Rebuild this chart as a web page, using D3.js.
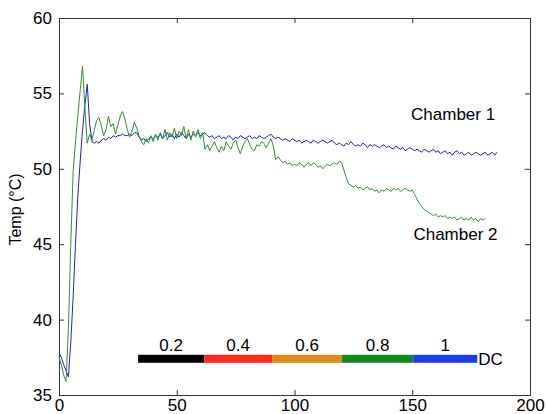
<!DOCTYPE html>
<html>
<head>
<meta charset="utf-8">
<script src="https://cdn.jsdelivr.net/npm/d3@7"></script>
<style type="text/css">
	body {
		margin: 0;
		background-color: white;
	}
	svg text {
		font-family: "Liberation Sans", Arial, sans-serif;
		fill: #000;
	}
	.axis path, .axis line {
		stroke: #333;
	}
</style>
</head>
<body>
<div id="chart"></div>
<script type="text/javascript">

	// chamber 1 (blue), one sample per second, t = 0 .. 186
	var chamber1 = [
		37.8,37.5,37.0,36.6,36.2,38.5,41.5,45.0,48.2,50.5,
		52.6,54.2,55.6,53.0,51.8,51.7,51.8,51.7,51.9,52.0,
		51.9,52.1,52.0,52.2,52.1,52.2,52.2,52.3,52.2,52.2,
		52.3,52.2,52.4,52.4,52.1,51.9,52.0,51.8,52.0,52.1,
		52.0,52.2,52.1,52.3,52.0,52.2,52.4,52.1,52.3,52.0,
		52.3,52.1,52.4,52.2,52.0,52.3,52.1,52.3,52.2,52.4,
		52.2,52.3,52.4,52.2,52.1,52.2,52.0,52.1,52.2,52.0,
		52.1,52.0,52.2,52.1,51.9,52.1,52.0,52.2,52.1,52.0,
		52.1,52.2,52.0,52.1,52.0,52.2,52.1,52.0,52.1,52.2,
		52.3,52.1,52.0,52.1,52.0,51.9,52.0,51.9,51.8,52.0,
		51.9,51.8,51.9,51.7,51.8,51.9,51.8,51.7,51.9,51.8,
		51.7,51.8,51.9,51.8,51.7,51.8,51.9,51.7,51.6,51.7,
		51.6,51.5,51.7,51.6,51.8,51.6,51.5,51.6,51.5,51.7,
		51.6,51.4,51.6,51.5,51.6,51.5,51.4,51.5,51.6,51.4,
		51.5,51.4,51.3,51.5,51.4,51.3,51.4,51.2,51.3,51.4,
		51.3,51.2,51.3,51.2,51.1,51.3,51.2,51.1,51.2,51.3,
		51.1,51.2,51.0,51.1,51.2,51.0,51.1,50.9,51.1,51.2,
		51.0,51.1,50.9,51.0,51.1,50.9,51.0,51.1,51.0,50.9,
		51.0,51.1,50.9,51.0,51.1,50.9,51.1
	];

	// chamber 2 (green), t = 0 .. 181
	var chamber2 = [
		37.5,37.0,36.3,35.9,39.5,45.0,49.8,51.8,53.5,55.2,
		56.8,54.0,51.7,52.3,51.9,52.6,53.2,53.4,52.8,52.2,
		52.6,53.5,52.8,53.0,52.3,52.9,53.5,53.8,53.3,52.6,
		52.1,52.5,53.1,52.7,52.2,51.8,51.6,52.0,51.7,52.2,
		51.8,52.3,51.9,52.4,52.0,52.6,51.9,52.4,52.1,52.7,
		52.0,52.5,52.2,52.8,52.0,52.6,51.9,52.5,52.1,52.6,
		52.0,52.4,51.3,51.6,51.2,51.5,51.8,51.4,51.1,51.5,
		51.2,51.8,51.5,51.3,51.7,51.9,51.4,51.0,51.5,51.8,
		52.0,51.6,51.3,51.2,51.6,51.5,51.8,51.7,51.4,51.7,
		52.0,51.5,50.6,50.8,50.6,50.4,50.5,50.3,50.4,50.2,
		50.3,50.2,50.4,50.3,50.1,50.3,50.4,50.2,50.4,50.3,
		50.1,50.2,50.0,50.2,50.3,50.2,50.3,50.4,50.3,50.5,
		50.4,49.9,49.4,49.0,48.9,48.8,48.9,48.7,48.8,48.6,
		48.7,48.8,48.6,48.7,48.5,48.6,48.4,48.6,48.5,48.7,
		48.6,48.5,48.7,48.6,48.7,48.5,48.6,48.7,48.6,48.5,
		48.6,48.3,48.0,47.7,47.5,47.3,47.2,47.1,47.0,46.9,
		47.0,46.8,46.9,46.8,46.9,46.7,46.8,46.7,46.8,46.6,
		46.7,46.8,46.6,46.7,46.6,46.8,46.6,46.7,46.5,46.7,
		46.6,46.7
	];

	var xTicks = [0, 50, 100, 150, 200];
	var yTicks = [35, 40, 45, 50, 55, 60];

	// duty cycle bar: segment edges (time) and labels
	var dcEdges = [33.6, 61.6, 90.5, 120.2, 150.4, 177.6];
	var dcLabels = ["0.2", "0.4", "0.6", "0.8", "1"];
	var dcColors = ["#000000", "#ff2a1a", "#e08c14", "#118a1e", "#1a3cf0"];
	var dcLevel = 37.4;

	var width = 547, height = 414;
	var margin = {top: 18, right: 17, bottom: 19, left: 59};

	var svg = d3.select("#chart").append("svg")
		.attr("width", width)
		.attr("height", height);

	var x = d3.scaleLinear().domain([0, 200]).range([margin.left, width - margin.right]);
	var y = d3.scaleLinear().domain([35, 60]).range([height - margin.bottom, margin.top]);

	// box + inward ticks, matlab style
	var g = svg.append("g").attr("class", "axis");

	g.append("g")
		.attr("transform", `translate(0,${y(35)})`)
		.call(d3.axisBottom(x).tickValues(xTicks).tickSize(-5).tickPadding(4).tickSizeOuter(0))
		.selectAll("text").style("font-size", "17px");

	g.append("g")
		.attr("transform", `translate(0,${y(60)})`)
		.call(d3.axisTop(x).tickValues(xTicks).tickSize(-5).tickSizeOuter(0).tickFormat(""));

	g.append("g")
		.attr("transform", `translate(${x(0)},0)`)
		.call(d3.axisLeft(y).tickValues(yTicks).tickSize(-5).tickPadding(7).tickSizeOuter(0))
		.selectAll("text").style("font-size", "17px");

	g.append("g")
		.attr("transform", `translate(${x(200)},0)`)
		.call(d3.axisRight(y).tickValues(yTicks).tickSize(-5).tickSizeOuter(0).tickFormat(""));

	svg.selectAll(".axis .domain").attr("stroke", "#333");
	svg.selectAll(".axis text").attr("fill", "#000");

	// y label
	svg.append("text")
		.attr("transform", `translate(21,${(y(35) + y(60)) / 2 + 3}) rotate(-90)`)
		.attr("text-anchor", "middle")
		.style("font-size", "16px")
		.text("Temp (°C)");

	var line = d3.line()
		.x((d, i) => x(i))
		.y(d => y(d));

	svg.append("path")
		.datum(chamber1)
		.attr("fill", "none")
		.attr("stroke", "#1f1fc8")
		.attr("stroke-width", 1)
		.attr("d", line);

	svg.append("path")
		.datum(chamber2)
		.attr("fill", "none")
		.attr("stroke", "#2f8f33")
		.attr("stroke-width", 1)
		.attr("d", line);

	// curve labels
	svg.append("text")
		.attr("x", x(149.5)).attr("y", y(51.7) - 23)
		.style("font-size", "17px")
		.text("Chamber 1");

	svg.append("text")
		.attr("x", x(150.5)).attr("y", y(46.7) + 21)
		.style("font-size", "17px")
		.text("Chamber 2");

	// duty cycle bar
	var segs = dcLabels.map((l, i) => ({label: l, x0: dcEdges[i], x1: dcEdges[i + 1], color: dcColors[i]}));

	svg.selectAll("rect.dc")
		.data(segs)
		.enter().append("rect")
		.attr("class", "dc")
		.attr("x", d => x(d.x0))
		.attr("y", y(dcLevel) - 4)
		.attr("width", d => x(d.x1) - x(d.x0))
		.attr("height", 8)
		.attr("fill", d => d.color);

	svg.selectAll("text.dclabel")
		.data(segs)
		.enter().append("text")
		.attr("class", "dclabel")
		.attr("x", d => x((d.x0 + d.x1) / 2))
		.attr("y", y(dcLevel) - 8)
		.attr("text-anchor", "middle")
		.style("font-size", "17px")
		.text(d => d.label);

	svg.append("text")
		.attr("x", x(dcEdges[dcEdges.length - 1]) + 1)
		.attr("y", y(dcLevel) + 6)
		.style("font-size", "17px")
		.text("DC");

</script>
</body>
</html>
